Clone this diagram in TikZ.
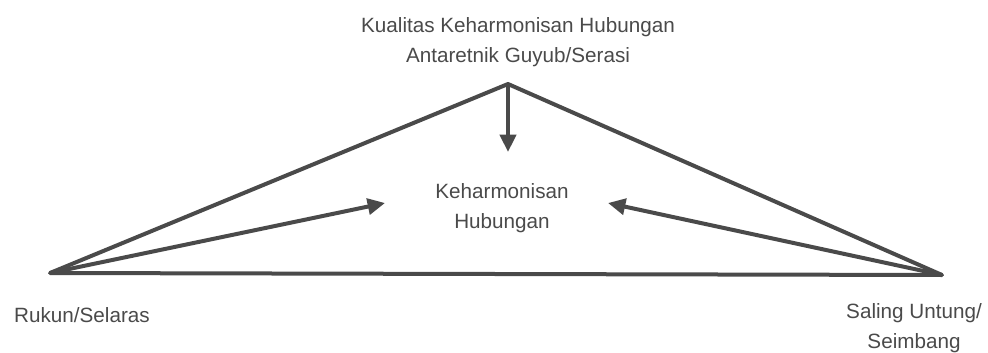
\documentclass[tikz,border=0pt]{standalone}
\usepackage{fontspec}
\setmainfont{Liberation Sans}
\usetikzlibrary{arrows.meta}
\definecolor{ink}{HTML}{4A4A4A}
\begin{document}
\begin{tikzpicture}[x=0.75pt,y=-0.75pt,
  edge/.style={draw=ink,line width=3pt,line cap=round,line join=round},
  arr/.style={draw=ink,line width=3pt,-{Triangle[length=13pt,width=12pt]}},
  lab/.style={text=ink,font=\fontsize{15.5pt}{22pt}\selectfont,align=center,inner sep=0pt}]
\useasboundingbox (0,0) rectangle (988,353);
\coordinate (A) at (508,84);
\coordinate (L) at (50,273);
\coordinate (R) at (942,275);
\coordinate (tA) at (508,152);
\coordinate (tL) at (385,203);
\coordinate (tR) at (608,203);
\draw[edge] (L) -- (A) -- (R) -- cycle;
\draw[arr] (A) -- (tA);
\draw[arr] (L) -- (tL);
\draw[arr] (R) -- (tR);
\node[lab] (top) at (518,42) {Kualitas Keharmonisan Hubungan\\Antaretnik Guyub/Serasi};
\node[lab] (mid) at (502,208) {Keharmonisan\\Hubungan};
\node[lab] (left) at (82,315) {Rukun/Selaras};
\node[lab] (right) at (914,328) {Saling Untung/\\Seimbang};
\end{tikzpicture}
\end{document}
